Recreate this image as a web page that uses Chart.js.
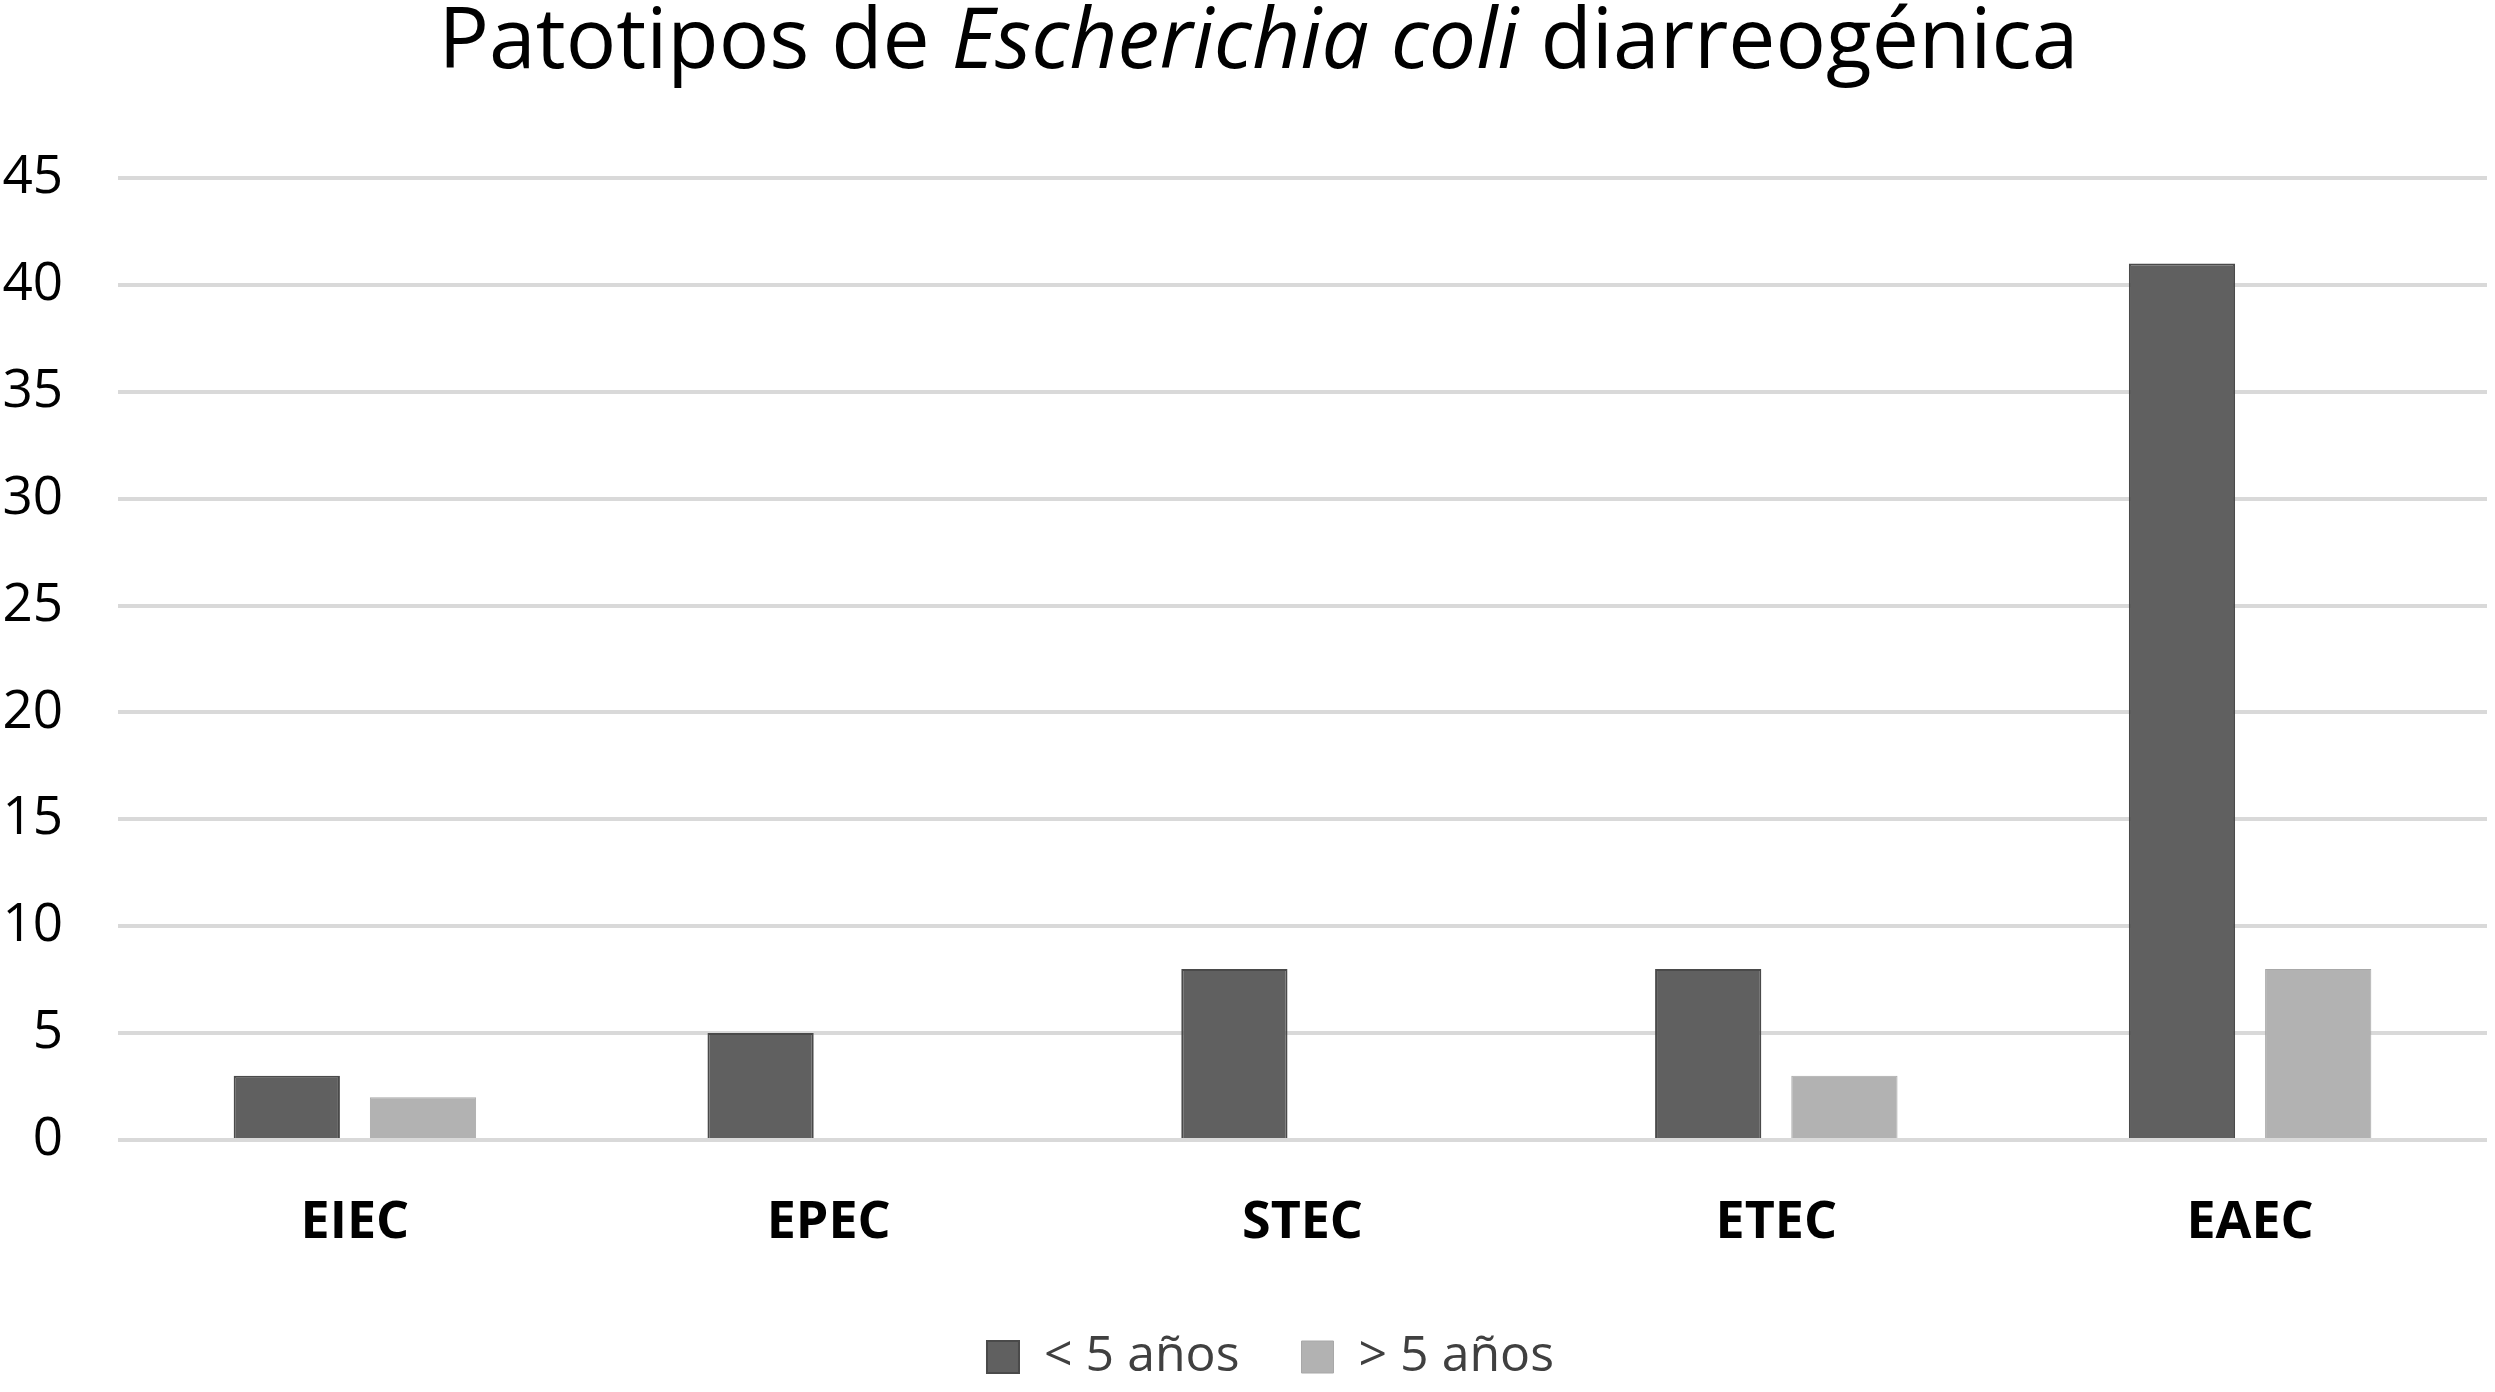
<!DOCTYPE html>
<html>
<head>
<meta charset="utf-8">
<script src="https://cdn.jsdelivr.net/npm/chart.js@4/dist/chart.umd.min.js"></script>
<style>
  html, body { margin: 0; padding: 0; background: #fff; }
  #wrap { position: relative; width: 2495px; height: 1392px; overflow: hidden; }
  #title {
    position: absolute; left: 26px; top: -6px; width: 2465px;
    text-align: center; font-family: "Open Sans", sans-serif;
    font-size: 84px; line-height: 84px; color: #000; white-space: nowrap;
  }
  #chart-box { position: absolute; left: 0; top: 0; width: 2495px; height: 1392px; }
</style>
</head>
<body>
<div id="wrap">
  <div id="chart-box"><canvas id="chart"></canvas></div>
  <div id="title">Patotipos de <i>Escherichia coli</i> diarreogénica</div>
</div>
<script>
// ── Data ──────────────────────────────────────────────────────────────────────
const categories   = ['EIEC', 'EPEC', 'STEC', 'ETEC', 'EAEC'];
const seriesLabels = ['< 5 años', '> 5 años'];
const menores5     = [3, 5, 8, 8, 41];
const mayores5     = [2, 0, 0, 3, 8];
const yMin = 0, yMax = 45, yStep = 5;

const FONT = '"Open Sans", sans-serif';

// nudge the legend a bit right, like the original
const legendShift = {
  id: 'legendShift',
  afterLayout(c) {
    if (!c.legend) return;
    c.legend.left  += 27;
    c.legend.right += 27;
  },
};

// ── Chart ─────────────────────────────────────────────────────────────────────
const ctx = document.getElementById('chart').getContext('2d');
const chart = new Chart(ctx, {
  type: 'bar',
  data: {
    labels: categories,
    datasets: [
      {
        label: seriesLabels[0],
        data: menores5,
        backgroundColor: '#606060',
        borderColor: '#4a4a4a',
        borderWidth: 2,
        categoryPercentage: 0.575,
        barPercentage: 0.78,
      },
      {
        label: seriesLabels[1],
        data: mayores5,
        backgroundColor: '#b2b2b2',
        borderColor: '#a8a8a8',
        borderWidth: 1,
        categoryPercentage: 0.575,
        barPercentage: 0.78,
      },
    ],
  },
  options: {
    responsive: true,
    maintainAspectRatio: false,
    animation: false,
    devicePixelRatio: 1,
    layout: { padding: { top: 178, right: 8, left: 0, bottom: 0 } },
    scales: {
      x: {
        grid: { display: false },
        border: { display: false },
        ticks: { color: '#000', font: { family: FONT, size: 52, weight: 'bold' }, padding: 44 },
        afterFit: (s) => { s.height = 130; },
      },
      y: {
        min: yMin, max: yMax,
        ticks: { stepSize: yStep, color: '#000', font: { family: FONT, size: 53 }, padding: 55 },
        grid: { color: '#d9d9d9', lineWidth: 4, drawTicks: false },
        border: { display: false },
        afterFit: (s) => { s.width = 118; },
      },
    },
    plugins: {
      tooltip: { enabled: false },
      legend: {
        position: 'bottom',
        labels: {
          boxWidth: 32, boxHeight: 32, padding: 62,
          color: '#404040',
          font: { family: FONT, size: 50 },
        },
      },
    },
  },
  plugins: [legendShift],
});
</script>
</body>
</html>
